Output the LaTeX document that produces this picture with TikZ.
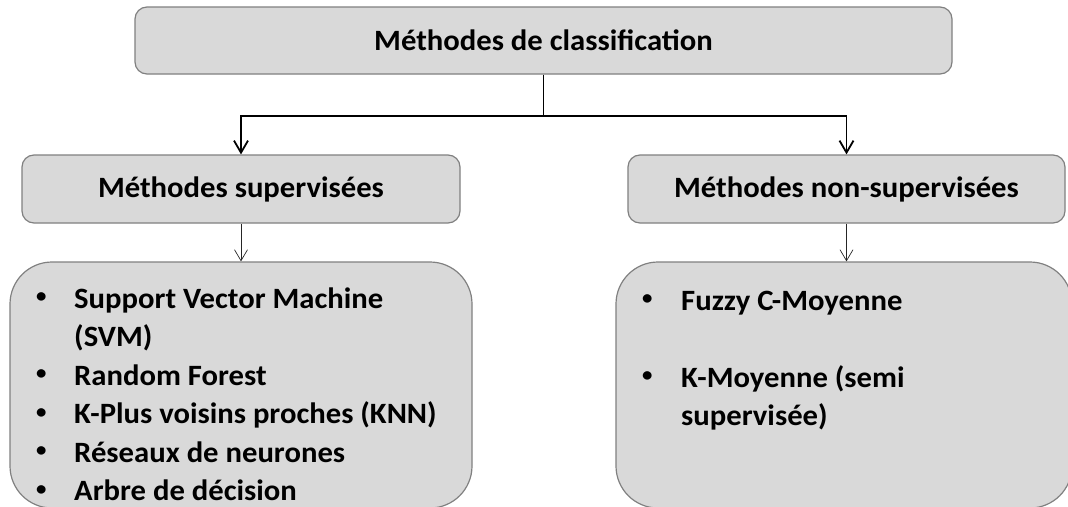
\documentclass[tikz,border=0pt]{standalone}
\usepackage{fontspec}
\setmainfont{Carlito}[FakeStretch=1.04]
\usetikzlibrary{arrows.meta}

\definecolor{fondgris}{HTML}{D9D9D9}
\definecolor{bordgris}{HTML}{808080}

\newcommand{\puce}{\raisebox{5.5pt}{\fontsize{20}{20}\selectfont\textbullet}}

\tikzset{
  boite/.style={draw=bordgris, fill=fondgris, line width=1.2pt, rounded corners=12pt,
    font=\fontsize{29.5}{34}\selectfont\bfseries},
  grandeboite/.style={boite, rounded corners=42pt},
  liste/.style={anchor=base west, inner sep=0pt, font=\fontsize{29.5}{38.5}\selectfont\bfseries},
  fleche/.style={-{Straight Barb[length=12pt,width=14pt]}, line width=1.8pt},
  flechefine/.style={-{Straight Barb[length=11pt,width=13pt]}, line width=0.7pt, draw=black!85}
}

\begin{document}
\begin{tikzpicture}[x=1pt,y=-1pt]
        \clip (0,0) rectangle (1068,506);

        \node[boite, minimum width=817pt, minimum height=67pt] (classif) at (543.5,40.5) {Méthodes de classification};
        \node[boite, minimum width=438pt, minimum height=68pt] (superv) at (241,189) {Méthodes supervisées};
        \node[boite, minimum width=437pt, minimum height=68pt] (nonsuperv) at (846.5,189) {Méthodes non-supervisées};
        \node[grandeboite, minimum width=462pt, minimum height=246pt] (boitesup) at (241,385) {};
        \node[grandeboite, minimum width=456pt, minimum height=246pt] (boitenon) at (844,385) {};

        \node[liste] (algosup) at (36,308) {\begin{tabular}[t]{@{}p{38pt}@{}l@{}}
            \puce & Support Vector Machine\\
                  & (SVM)\\
            \puce & Random Forest\\
            \puce & K-Plus voisins proches (KNN)\\
            \puce & Réseaux de neurones\\
            \puce & Arbre de décision
          \end{tabular}};
        \node[liste] (algonon) at (642,310) {\begin{tabular}[t]{@{}p{39pt}@{}l@{}}
            \puce & Fuzzy C-Moyenne\\
                  & \\
            \puce & K-Moyenne (semi\\
                  & supervisée)
          \end{tabular}};

        \draw[fleche] (classif.south) -- ++(0,-41pt) -| (superv.north);
        \draw[fleche] (classif.south) -- ++(0,-41pt) -| (nonsuperv.north);
        \draw[flechefine] (superv.south) -- (superv.south |- boitesup.north);
        \draw[flechefine] (nonsuperv.south) -- (nonsuperv.south |- boitenon.north);
    \end{tikzpicture}
\end{document}
